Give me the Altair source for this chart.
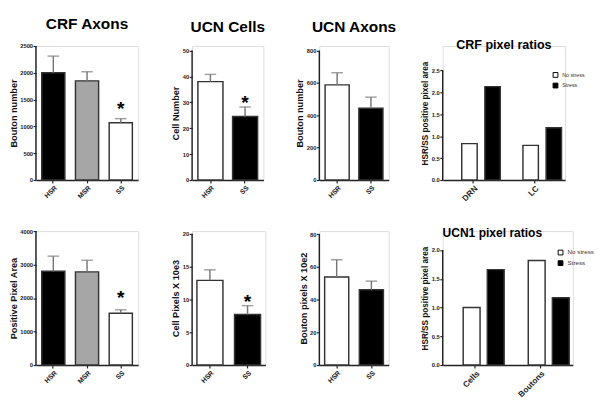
import altair as alt
import pandas as pd

FONT = "Liberation Sans"

# ---------------- data ----------------
crf_groups = ["HSR", "MSR", "SS"]
crf_fills = ["black", "#a6a6a6", "white"]
crf_bouton_mean = [2000, 1850, 1068]
crf_bouton_top = [2312, 2020, 1145]
crf_area_mean = [2800, 2782, 1545]
crf_area_top = [3252, 3128, 1650]
crf_sig = [False, False, True]

ucn_groups = ["HSR", "SS"]
ucn_fills = ["white", "black"]
ucn_cell_mean = [38.0, 24.5]
ucn_cell_top = [40.8, 28.2]
ucn_bouton_mean = [588, 443]
ucn_bouton_top = [663, 512]
ucn_cellpix_mean = [12.9, 7.7]
ucn_cellpix_top = [14.5, 9.05]
ucn_boutonpix_mean = [53.8, 46.0]
ucn_boutonpix_top = [64.4, 51.3]
ucn_cell_sig = [False, True]
ucn_axon_sig = [False, False]

ratio_series = ["No stress", "Stress"]
crf_ratio_cats = ["DRN", "LC"]
crf_ratio_nostress = [0.83, 0.79]
crf_ratio_stress = [2.13, 1.19]
ucn1_ratio_cats = ["Cells", "Boutons"]
ucn1_ratio_nostress = [1.0, 1.82]
ucn1_ratio_stress = [1.66, 1.17]

PANEL_H = 139


def y_axis(title, ticks, fmt="d", title_size=9.5):
    return alt.Axis(values=ticks, title=title, format=fmt, domain=False, tickSize=3,
                    tickWidth=1.2, tickColor="#222", labelFontSize=6, labelFontWeight="bold",
                    labelPadding=0.5, titlePadding=1.5, titleFontSize=title_size,
                    titleFontWeight="bold", grid=False, labelColor="#222",
                    titleColor="#111", labelOverlap=False)


def x_axis(size):
    return alt.Axis(title=None, labelAngle=315, labelFontSize=size, labelFontWeight="bold",
                    tickSize=3, tickWidth=1.2, labelPadding=1, domainWidth=1.5,
                    domainColor="#222", tickColor="#222", labelColor="#222")


def axis_line(ymax_tick, ax):
    return alt.Chart(pd.DataFrame({"a": [0]})).mark_rule(color="#222", strokeWidth=1.5).encode(
        x=alt.value(0), y=alt.datum(0, axis=ax), y2=alt.datum(ymax_tick))


def bar_panel(groups, means, tops, fills, sig, ymax, ticks, ytitle, width, pi, po,
              star_dy=0, title=None):
    df = pd.DataFrame({"g": groups, "v": means, "t": tops, "sig": sig})
    xs = alt.X("g:N", sort=groups, scale=alt.Scale(paddingInner=pi, paddingOuter=po),
               axis=x_axis(7))
    ysc = alt.Scale(domain=[0, ymax], nice=False, zero=True)
    ax = y_axis(ytitle, ticks)
    base = alt.Chart(df)
    bars = base.mark_bar(stroke="#333", strokeWidth=1.5).encode(
        x=xs,
        y=alt.Y("v:Q", scale=ysc, axis=ax, title=ytitle),
        fill=alt.Fill("g:N", scale=alt.Scale(domain=groups, range=fills), legend=None),
    )
    err = base.mark_rule(color="#777", strokeWidth=1.5).encode(
        x=alt.X("g:N", sort=groups), y=alt.Y("v:Q", title=ytitle, axis=ax), y2="t:Q")
    cap = base.mark_tick(color="#777", thickness=1.5, size=12).encode(
        x=alt.X("g:N", sort=groups), y=alt.Y("t:Q", title=ytitle, axis=ax))
    layers = [bars, err, cap, axis_line(ticks[-1], ax)]
    if any(sig):
        star = base.transform_filter("datum.sig").mark_text(
            text="*", fontSize=20, fontWeight="bold", font=FONT, baseline="alphabetic",
            color="black", dy=star_dy).encode(
            x=alt.X("g:N", sort=groups), y=alt.Y("t:Q", title=ytitle, axis=ax))
        layers.append(star)
    ch = alt.layer(*layers).properties(width=width, height=PANEL_H)
    if title:
        ch = ch.properties(title=alt.TitleParams(title, fontSize=16, fontWeight="bold",
                                                 font=FONT, offset=12, color="black"))
    return ch


def ratio_panel(cats, ns, st, ymax, ticks, ytitle, width, bar_w, shift,
                title, title_size, title_offset, title_dx, lx, ly, lsize):
    df = pd.DataFrame({
        "c": cats + cats,
        "s": [ratio_series[0]] * len(cats) + [ratio_series[1]] * len(cats),
        "v": ns + st,
    })
    ysc = alt.Scale(domain=[0, ymax], nice=False, zero=True)
    ax = y_axis(ytitle, ticks, ".1f", 8.5)
    xs = alt.X("c:N", sort=cats, scale=alt.Scale(paddingInner=0, paddingOuter=0),
               axis=x_axis(8.5))
    fill = alt.Fill("s:N", scale=alt.Scale(domain=ratio_series, range=["white", "black"]),
                    legend=alt.Legend(orient="none", legendX=lx, legendY=ly, title=None,
                                      symbolType="square", symbolSize=25,
                                      symbolStrokeColor="#000", symbolStrokeWidth=1,
                                      labelFontSize=lsize, labelFont=FONT,
                                      labelColor="#333", padding=0, rowPadding=1,
                                      labelOffset=4))
    base = alt.Chart(df)
    layers = []
    # bars are drawn from their left edge, so half the bar width is added back
    for name, off in zip(ratio_series, [-shift + bar_w / 2, shift + bar_w / 2]):
        layers.append(
            base.transform_filter(alt.datum.s == name).mark_bar(
                stroke="#333", strokeWidth=1.5, width=bar_w, xOffset=off).encode(
                x=xs, y=alt.Y("v:Q", scale=ysc, axis=ax, title=ytitle), fill=fill))
    layers.append(axis_line(ticks[-1], ax))
    ch = alt.layer(*layers).properties(
        width=width, height=PANEL_H,
        title=alt.TitleParams(title, fontSize=title_size, fontWeight="bold", font=FONT,
                              offset=title_offset, dx=title_dx, color="black"))
    return ch


p1 = bar_panel(crf_groups, crf_bouton_mean, crf_bouton_top, crf_fills, crf_sig,
               2500, [0, 500, 1000, 1500, 2000, 2500], "Bouton number", 106, 0.314, 0.171,
               star_dy=-3.6, title="CRF Axons")
p5 = bar_panel(crf_groups, crf_area_mean, crf_area_top, crf_fills, crf_sig,
               4000, [0, 1000, 2000, 3000, 4000], "Positive Pixel Area", 106, 0.314, 0.171,
               star_dy=-6)
p2 = bar_panel(ucn_groups, ucn_cell_mean, ucn_cell_top, ucn_fills, ucn_cell_sig,
               51.75, [0, 10, 20, 30, 40, 50], "Cell Number", 74, 0.278, 0.167,
               star_dy=1.9, title="UCN Cells")
p6 = bar_panel(ucn_groups, ucn_cellpix_mean, ucn_cellpix_top, ucn_fills, ucn_cell_sig,
               20.4, [0, 5, 10, 15, 20], "Cell Pixels  X 10e3", 76, 0.308, 0.128,
               star_dy=2.4)
p3 = bar_panel(ucn_groups, ucn_bouton_mean, ucn_bouton_top, ucn_fills, ucn_axon_sig,
               828, [0, 200, 400, 600, 800], "Bouton number", 72, 0.286, 0.171,
               title="UCN Axons")
p7 = bar_panel(ucn_groups, ucn_boutonpix_mean, ucn_boutonpix_top, ucn_fills, ucn_axon_sig,
               81.9, [0, 20, 40, 60, 80], "Bouton pixels X 10e2", 72, 0.306, 0.153)
p4 = ratio_panel(crf_ratio_cats, crf_ratio_nostress, crf_ratio_stress, 3.056,
                 [0, 0.5, 1.0, 1.5, 2.0, 2.5], "HSR/SS positive pixel area", 127,
                 16, 12, "CRF pixel ratios", 13, -6, 0, 114, 27, 5.5)
p8 = ratio_panel(ucn1_ratio_cats, ucn1_ratio_nostress, ucn1_ratio_stress, 2.33,
                 [0, 0.5, 1.0, 1.5, 2.0], "HSR/SS positive pixel area", 135,
                 17.5, 12.5, "UCN1 pixel ratios", 12.5, -9, -16, 119, 19, 6.5)

chart = alt.concat(p1, p2, p3, p4, p5, p6, p7, p8, columns=4,
                   spacing={"row": 53, "column": 56}, bounds="flush").resolve_scale(
    fill="independent", x="independent", y="independent").resolve_legend(
    fill="independent").configure_view(stroke=None).configure(
    font=FONT, background="white").properties(
    padding={"left": 0, "top": 0, "right": 0, "bottom": 0})

chart.save("out.html", embed_options={"renderer": "svg", "actions": False})
